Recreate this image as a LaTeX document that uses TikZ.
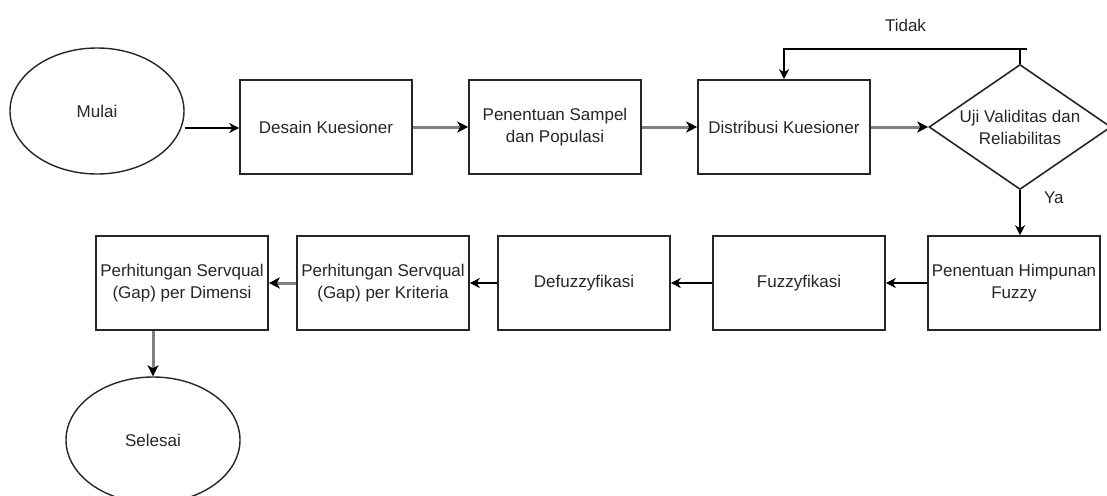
\documentclass[tikz,border=0pt]{standalone}
\usepackage{fontspec}
\setmainfont{Liberation Sans}
\usetikzlibrary{arrows.meta, positioning, shapes.geometric}

\begin{document}
\begin{tikzpicture}[
        x=1pt, y=-1pt,
        font=\fontsize{17}{22}\selectfont,
        >={Stealth[length=10pt, width=10pt, inset=3pt]},
        proc/.style  ={draw=black!85, line width=1.6pt, minimum width=172pt,
                       minimum height=94pt, inner sep=0pt, align=center, text=black!85},
        term/.style  ={ellipse, draw=black!85, line width=1.4pt, minimum width=174pt,
                       minimum height=126pt, inner sep=0pt, text=black!85},
        decide/.style={diamond, draw=black!85, line width=1.6pt, aspect=1.45,
                       minimum width=182pt, minimum height=125pt,
                       inner sep=0pt, align=center, text=black!85},
        flow/.style  ={->, line width=1.5pt, draw=black},
        flowg/.style ={-{Stealth[length=11pt, width=11pt, inset=3pt, color=black]},
                       line width=3pt, draw=black!50},
        lbl/.style   ={text=black!85}
    ]
    \useasboundingbox (0,0) rectangle (1107,495);

    % top row
    \node[term]   (mulai)      at (97,111)   {Mulai};
    \node[proc]   (desain)     at (326,127)  {Desain Kuesioner};
    \node[proc]   (sampel)     at (555,127)  {Penentuan Sampel\\dan Populasi};
    \node[proc]   (distribusi) at (784,127)  {Distribusi Kuesioner};
    \node[decide] (uji)        at (1020,127) {Uji Validitas dan\\Reliabilitas};

    % bottom row
    \node[proc]   (himpunan)   at (1014,283) {Penentuan Himpunan\\Fuzzy};
    \node[proc]   (fuzzy)      at (799,283)  {Fuzzyfikasi};
    \node[proc]   (defuzzy)    at (584,283)  {Defuzzyfikasi};
    \node[proc]   (kriteria)   at (383,283)  {Perhitungan Servqual\\(Gap) per Kriteria};
    \node[proc]   (dimensi)    at (182,283)  {Perhitungan Servqual\\(Gap) per Dimensi};
    \node[term]   (selesai)    at (153,440)  {Selesai};

    \coordinate (tidakend) at (1027,49);

    \draw[flow]  (mulai.east |- 0,128) -- (desain.west |- 0,128);
    \draw[flowg] (desain) -- (sampel);
    \draw[flowg] (sampel) -- (distribusi);
    \draw[flowg] (distribusi) -- (uji);

    \draw[line width=1.5pt] (uji.north) -- (uji.north |- tidakend);
    \draw[flow] (tidakend) -- node[lbl, midway, above=13pt] {Tidak}
        (tidakend -| distribusi.north) -- (distribusi.north);
    \draw[flow] (uji.south) -- node[lbl, pos=0.17, right=20pt] {Ya}
        (uji.south |- himpunan.north);

    \draw[flow]  (himpunan) -- (fuzzy);
    \draw[flow]  (fuzzy) -- (defuzzy);
    \draw[flow]  (defuzzy) -- (kriteria);
    \draw[flowg] (kriteria) -- (dimensi);
    \draw[flowg] (selesai.north |- dimensi.south) -- (selesai.north);

\end{tikzpicture}
\end{document}
